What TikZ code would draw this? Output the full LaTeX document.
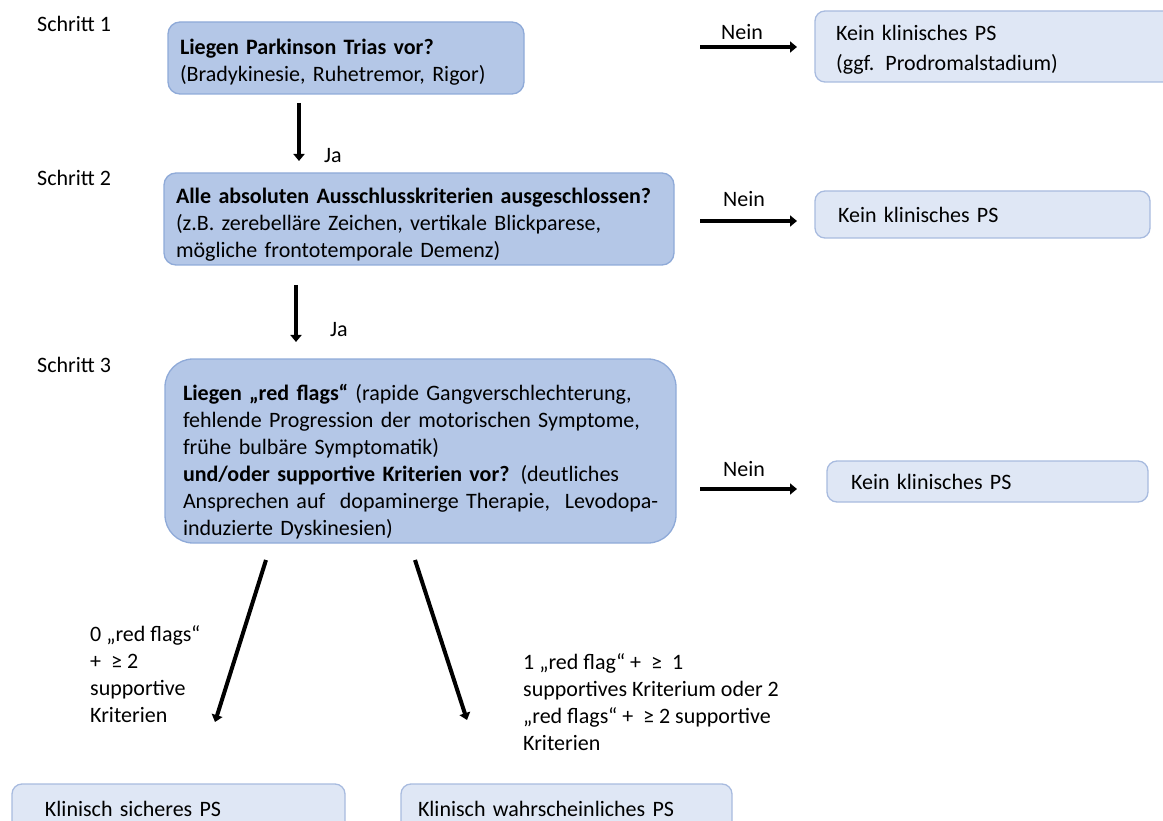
\documentclass[tikz,border=0pt]{standalone}
\usepackage{fontspec}
\setmainfont{Carlito}
\usepackage{tikz}
\usetikzlibrary{arrows.meta}
\definecolor{darkfill}{HTML}{B4C7E7}
\definecolor{darkline}{HTML}{8FAAD8}
\definecolor{lightfill}{HTML}{DFE7F5}
\definecolor{lightline}{HTML}{A8BBDF}

\begin{document}
\begin{tikzpicture}[x=1pt, y=-1pt,
    every node/.style={font=\fontsize{22}{27}\selectfont},
    qbox/.style={draw=darkline, fill=darkfill, line width=1.3pt, rounded corners=12pt, align=left, inner sep=0pt},
    rbox/.style={draw=lightline, fill=lightfill, line width=1.3pt, rounded corners=10pt, align=left, inner sep=0pt},
    pfeil/.style={line width=4pt, -{Triangle[length=7pt,width=11pt]}},
    lbl/.style={align=left, inner sep=0pt, anchor=north west}]
    \useasboundingbox (0,0) rectangle (1163,821);
    \clip (0,0) rectangle (1163,821);

    % Schritte
    \node[lbl] (s1) at (37,16) {Schritt 1};
    \node[lbl] (s2) at (37,170) {Schritt 2};
    \node[lbl] (s3) at (37,357) {Schritt 3};

    % Fragen
    \node[qbox, minimum width=356pt, minimum height=72pt, text width=332pt] (q1) at (346,58)
        {\rule{0pt}{23pt}\textbf{Liegen Parkinson Trias vor?}\\(Bradykinesie, Ruhetremor, Rigor)};
    \node[qbox, minimum width=510pt, minimum height=92pt, text width=486pt] (q2) at (419,219)
        {\rule{0pt}{26pt}\textbf{Alle absoluten Ausschlusskriterien ausgeschlossen?}\\
         (z.B. zerebelläre Zeichen, vertikale Blickparese,\\
         mögliche frontotemporale Demenz)};
    \node[qbox, rounded corners=28pt, minimum width=511pt, minimum height=184pt, text width=475pt] (q3) at (420.5,451)
        {\rule{0pt}{37pt}\textbf{Liegen „red flags“} (rapide Gangverschlechterung,\\
         fehlende Progression der motorischen Symptome,\\
         frühe bulbäre Symptomatik)\\
         \textbf{und/oder supportive Kriterien vor?} (deutliches\\
         \mbox{Ansprechen auf~ dopaminerge Therapie,~ Levodopa-}\\
         induzierte Dyskinesien)};

    % Ergebnisse
    \node[rbox, minimum width=360pt, minimum height=71pt, text width=318pt] (r1) at (995,46.5)
        {\rule{0pt}{22pt}Kein klinisches PS\\[3pt](ggf. Prodromalstadium)};
    \node[rbox, minimum width=335pt, minimum height=47pt, text width=289pt] (r2) at (982.5,214.5)
        {Kein klinisches PS};
    \node[rbox, minimum width=321pt, minimum height=41pt, text width=273pt] (r3) at (987.5,481.5)
        {Kein klinisches PS};
    \node[rbox, minimum width=333pt, minimum height=50pt, text width=267pt] (b1) at (178.5,809)
        {Klinisch sicheres PS};
    \node[rbox, minimum width=331pt, minimum height=50pt, text width=297pt] (b2) at (566.5,809)
        {Klinisch wahrscheinliches PS};

    % Pfeile
    \coordinate (n1a) at (700,47);  \coordinate (n1b) at (797,47);
    \coordinate (n2a) at (700,221); \coordinate (n2b) at (797,221);
    \coordinate (n3a) at (700,489); \coordinate (n3b) at (797,489);
    \coordinate (j1a) at (299,103); \coordinate (j1b) at (299,161);
    \coordinate (j2a) at (296,285); \coordinate (j2b) at (296,342);
    \coordinate (d1a) at (266,560); \coordinate (d1b) at (215,722);
    \coordinate (d2a) at (415,560); \coordinate (d2b) at (467,720);

    \draw[pfeil] (n1a) -- (n1b);
    \draw[pfeil] (n2a) -- (n2b);
    \draw[pfeil] (n3a) -- (n3b);
    \draw[pfeil] (j1a) -- (j1b);
    \draw[pfeil] (j2a) -- (j2b);
    \draw[pfeil] (d1a) -- (d1b);
    \draw[pfeil] (d2a) -- (d2b);

    \node[lbl] (nein1) at (721,24) {Nein};
    \node[lbl] (nein2) at (723,191) {Nein};
    \node[lbl] (nein3) at (723,461) {Nein};
    \node[lbl] (ja1) at (324,148) {Ja};
    \node[lbl] (ja2) at (330,322) {Ja};

    \node[lbl] (k1) at (90,625)
        {0 „red flags“\\+~ ≥ 2\\supportive\\Kriterien};
    \node[lbl] (k2) at (523,653)
        {1 „red flag“ + ~≥~ 1\\supportives Kriterium oder 2\\„red flags“ + ~≥ 2 supportive\\Kriterien};
\end{tikzpicture}
\end{document}
